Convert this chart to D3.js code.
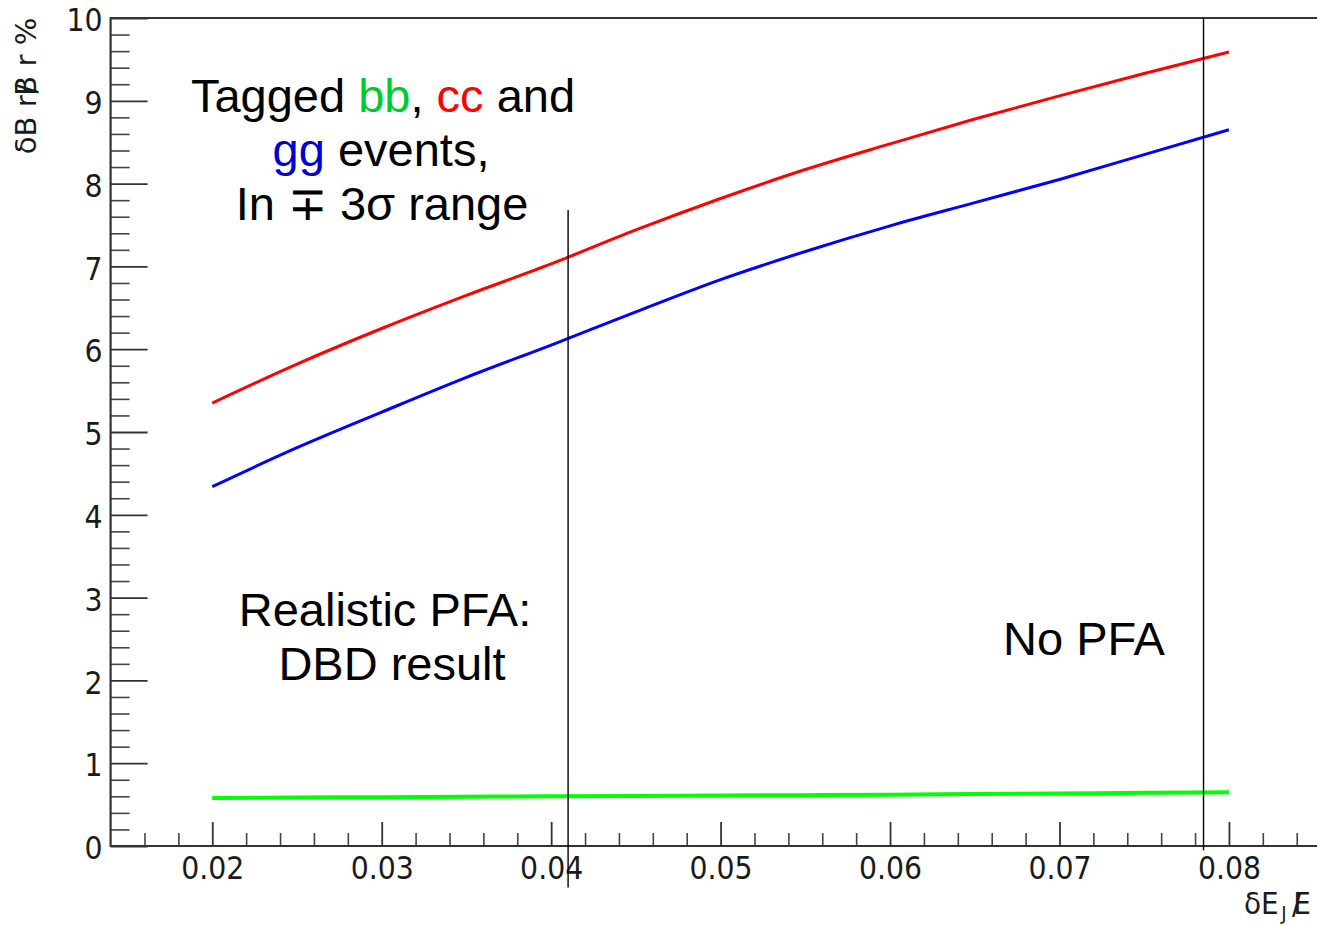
<!DOCTYPE html>
<html>
<head>
<meta charset="utf-8">
<script src="https://cdn.jsdelivr.net/npm/d3@7"></script>
<style>
  body { margin: 0; background: #fff; }
  svg { display: block; }
  .note { font-family: "Liberation Sans", Arial, sans-serif; font-size: 47px; fill: #000; }
</style>
</head>
<body>
<svg class="chart" width="1317" height="926"></svg>
<script>
// values
const xValues = [0.02, 0.025, 0.03, 0.035, 0.04, 0.045, 0.05, 0.055, 0.06, 0.065, 0.07, 0.075, 0.08]
const bbValues = [0.58, 0.585, 0.59, 0.595, 0.60, 0.604, 0.61, 0.614, 0.62, 0.628, 0.635, 0.642, 0.65]
const ccValues = [5.35, 5.82, 6.25, 6.65, 7.03, 7.44, 7.82, 8.17, 8.48, 8.78, 9.06, 9.33, 9.59]
const ggValues = [4.34, 4.81, 5.24, 5.66, 6.05, 6.45, 6.84, 7.18, 7.49, 7.77, 8.05, 8.35, 8.65]

const xTicks = [0.02, 0.03, 0.04, 0.05, 0.06, 0.07, 0.08]
const xTickLabels = ['0.02', '0.03', '0.04', '0.05', '0.06', '0.07', '0.08']
const yTicks = [0, 1, 2, 3, 4, 5, 6, 7, 8, 9, 10]

// vertical markers: x position, y from, y to
const markers = [
  { x: 0.041, y0: -0.5, y1: 7.68 },
  { x: 0.0785, y0: -0.05, y1: 10 }
]

const series = [
  { name: 'bb', values: bbValues, color: '#00ff00', width: 4 },
  { name: 'cc', values: ccValues, color: '#ff0000', width: 3 },
  { name: 'gg', values: ggValues, color: '#0000ff', width: 3 }
]

const svg = d3.select('.chart')

const x = d3.scaleLinear().domain([0.014, 0.086]).range([110.6, 1330.6])
const y = d3.scaleLinear().domain([0, 10]).range([846, 18])

const tickFont = '"DejaVu Sans", sans-serif'

// minor ticks
const xMinor = d3.range(0.016, 0.0861, 0.002).filter(v => Math.abs(Math.round(v * 100) - v * 100) > 1e-6)
const yMinor = d3.range(0.2, 10, 0.2).filter(v => Math.abs(Math.round(v) - v) > 1e-6)

svg.append('g')
  .attr('transform', 'translate(0,846)')
  .call(d3.axisBottom(x).tickValues(xMinor).tickSizeInner(-13).tickSizeOuter(0).tickFormat(''))
  .call(g => g.select('.domain').remove())
  .selectAll('line').attr('stroke', '#444').attr('stroke-width', 1.6)

svg.append('g')
  .attr('transform', 'translate(110.6,0)')
  .call(d3.axisLeft(y).tickValues(yMinor).tickSizeInner(-19).tickSizeOuter(0).tickFormat(''))
  .call(g => g.select('.domain').remove())
  .selectAll('line').attr('stroke', '#444').attr('stroke-width', 1.6)

// major x axis
const xAxis = svg.append('g')
  .attr('transform', 'translate(0,846)')
  .call(d3.axisBottom(x).tickValues(xTicks).tickSizeInner(-24).tickSizeOuter(0)
    .tickPadding(11).tickFormat((d, i) => xTickLabels[i]))
xAxis.select('.domain').remove()
xAxis.selectAll('line').attr('stroke', '#333').attr('stroke-width', 1.8)
xAxis.selectAll('text')
  .attr('font-family', tickFont)
  .attr('font-size', 31.5)
  .attr('fill', '#1a1a1a')
  .attr('transform', 'scale(0.9,1)')

// major y axis
const yAxis = svg.append('g')
  .attr('transform', 'translate(110.6,0)')
  .call(d3.axisLeft(y).tickValues(yTicks).tickSizeInner(-37).tickSizeOuter(0).tickPadding(9))
yAxis.select('.domain').remove()
yAxis.selectAll('line').attr('stroke', '#333').attr('stroke-width', 1.8)
yAxis.selectAll('text')
  .attr('font-family', tickFont)
  .attr('font-size', 31.5)
  .attr('fill', '#1a1a1a')
  .attr('dy', '0.4em')
  .attr('transform', 'scale(0.9,1)')

// frame lines
svg.append('line')
  .attr('x1', 110.6).attr('x2', 1317).attr('y1', y(0)).attr('y2', y(0))
  .attr('stroke', '#333').attr('stroke-width', 2.2)
svg.append('line')
  .attr('x1', 110.6).attr('x2', 1317).attr('y1', y(10)).attr('y2', y(10))
  .attr('stroke', '#333').attr('stroke-width', 2.2)
svg.append('line')
  .attr('x1', 110.6).attr('x2', 110.6).attr('y1', y(10) - 1).attr('y2', y(0) + 1)
  .attr('stroke', '#333').attr('stroke-width', 2.2)

// curves
const line = d3.line()
  .x((d, i) => x(xValues[i]))
  .y(d => y(d))
  .curve(d3.curveMonotoneX)

svg.selectAll('.curve')
  .data(series)
  .enter()
  .append('path')
  .attr('class', 'curve')
  .attr('d', d => line(d.values))
  .attr('fill', 'none')
  .attr('stroke', d => d.color)
  .attr('stroke-width', d => d.width)

// vertical markers
svg.selectAll('.marker')
  .data(markers)
  .enter()
  .append('line')
  .attr('class', 'marker')
  .attr('x1', d => x(d.x)).attr('x2', d => x(d.x))
  .attr('y1', d => y(d.y0)).attr('y2', d => y(d.y1))
  .attr('stroke', '#000')
  .attr('stroke-width', 1.4)

// axis titles
const yTitle = svg.append('text')
  .attr('transform', 'translate(36,86) rotate(-90)')
  .attr('text-anchor', 'middle')
  .attr('font-family', tickFont)
  .attr('font-size', 29)
  .attr('fill', '#1a1a1a')
yTitle.append('tspan').text('δB r')
yTitle.append('tspan').attr('dx', 2).text('/')
yTitle.append('tspan').attr('dx', -12).text('B r %')

const xTitle = svg.append('text')
  .attr('transform', 'translate(1311,914) scale(0.9,1)')
  .attr('text-anchor', 'end')
  .attr('font-family', tickFont)
  .attr('font-size', 31)
  .attr('fill', '#1a1a1a')
xTitle.append('tspan').text('δE')
xTitle.append('tspan').attr('font-size', 20).attr('dy', 6).attr('dx', 3).text('J')
xTitle.append('tspan').attr('dy', -6).attr('dx', 6).text('/')
xTitle.append('tspan').attr('dx', -9).text('E')

// annotations
const note1 = svg.append('text').attr('class', 'note').attr('text-anchor', 'middle')
  .attr('x', 383).attr('y', 112)
note1.append('tspan').text('Tagged ')
note1.append('tspan').attr('fill', '#00c832').text('bb')
note1.append('tspan').text(', ')
note1.append('tspan').attr('fill', '#ff0000').text('cc')
note1.append('tspan').text(' and')

const note2 = svg.append('text').attr('class', 'note').attr('text-anchor', 'middle')
  .attr('x', 381).attr('y', 166)
note2.append('tspan').attr('fill', '#0000cc').text('gg')
note2.append('tspan').text(' events,')

svg.append('text').attr('class', 'note').attr('text-anchor', 'middle')
  .attr('x', 382).attr('y', 220).text('In ∓ 3σ range')

svg.append('text').attr('class', 'note').attr('text-anchor', 'middle')
  .attr('x', 385).attr('y', 626).text('Realistic PFA:')
svg.append('text').attr('class', 'note').attr('text-anchor', 'middle')
  .attr('x', 392).attr('y', 680).text('DBD result')

svg.append('text').attr('class', 'note')
  .attr('x', 1003).attr('y', 655).text('No PFA')
</script>
</body>
</html>
